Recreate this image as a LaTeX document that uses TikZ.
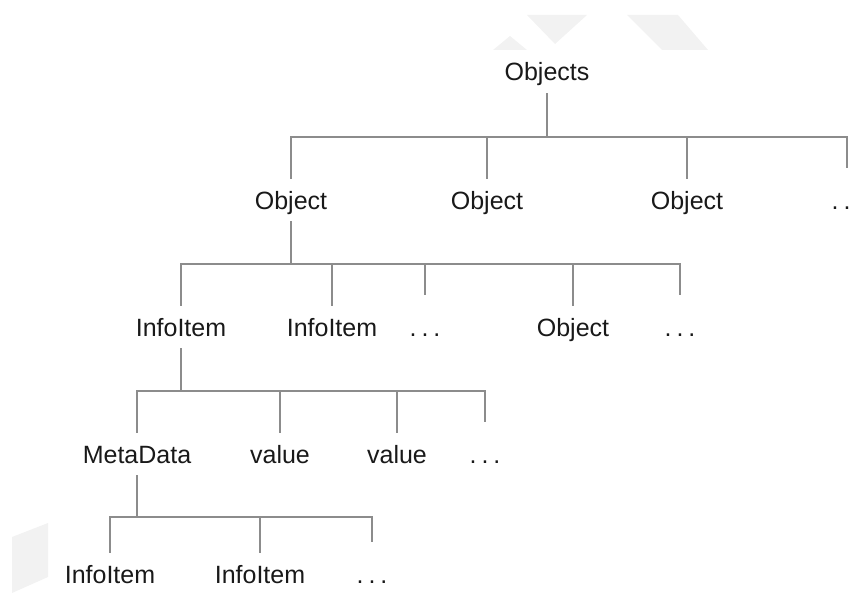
\documentclass[tikz,border=0pt]{standalone}
\usepackage{fontspec}
\setmainfont{Liberation Sans}
\newcommand{\moredots}{.\kern5pt.\kern5pt.}
\begin{document}
\begin{tikzpicture}[x=1pt, y=-1pt,
		t/.style = {anchor=base, text=black!90, font=\fontsize{25}{30}\selectfont, text height=19pt, text depth=1pt, inner xsep=0pt, inner ysep=11pt},
		d/.style = {t, text height=30pt},
		r/.style = {draw=black!45, line width=1.6pt},
		w/.style = {fill=black!5}
		]
		\clip (0,0) rectangle (853,599);
		
		%Shadows
		\fill[w]	(527,15) -- (587,15) -- (555,44) -- cycle;
		\fill[w]	(493,50) -- (510,36) -- (527,50) -- cycle;
		\fill[w]	(627,15) -- (678,15) -- (708,50) -- (662,50) -- cycle;
		\fill[w]	(48,523) -- (48,577) -- (12,593) -- (12,537) -- cycle;
		
		%Nodes
		\node[t]	(objs)	at	(547, 81)	{Objects};
		\node[t]	(obj1)	at	(291, 209)	{Object};
		\node[t]	(obj2)	at	(487, 209)	{Object};
		\node[t]	(obj3)	at	(687, 209)	{Object};
		\node[d]	(more1)	at	(847, 209)	{\moredots};
		\node[t]	(info1)	at	(181, 336)	{InfoItem};
		\node[t]	(info2)	at	(332, 336)	{InfoItem};
		\node[d]	(more2)	at	(425, 336)	{\moredots};
		\node[t]	(obj4)	at	(573, 336)	{Object};
		\node[d]	(more3)	at	(680, 336)	{\moredots};
		\node[t]	(meta)	at	(137, 463)	{MetaData};
		\node[t]	(val1)	at	(280, 463)	{value};
		\node[t]	(val2)	at	(397, 463)	{value};
		\node[d]	(more4)	at	(485, 463)	{\moredots};
		\node[t]	(info3)	at	(110, 583)	{InfoItem};
		\node[t]	(info4)	at	(260, 583)	{InfoItem};
		\node[d]	(more5)	at	(372, 583)	{\moredots};
		
		%Joints
		\coordinate	(j1)	at	(547, 137);
		\coordinate	(j2)	at	(291, 264);
		\coordinate	(j3)	at	(181, 391);
		\coordinate	(j4)	at	(137, 517);
		
		%Lines
		\draw[r]	(objs.south)	--	(j1);
		\foreach \c in {obj1, obj2, obj3, more1}
			\draw[r]	(j1)	-|	(\c.north);
		\draw[r]	(obj1.south)	--	(j2);
		\foreach \c in {info1, info2, more2, obj4, more3}
			\draw[r]	(j2)	-|	(\c.north);
		\draw[r]	(info1.south)	--	(j3);
		\foreach \c in {meta, val1, val2, more4}
			\draw[r]	(j3)	-|	(\c.north);
		\draw[r]	(meta.south)	--	(j4);
		\foreach \c in {info3, info4, more5}
			\draw[r]	(j4)	-|	(\c.north);
	\end{tikzpicture}
\end{document}
